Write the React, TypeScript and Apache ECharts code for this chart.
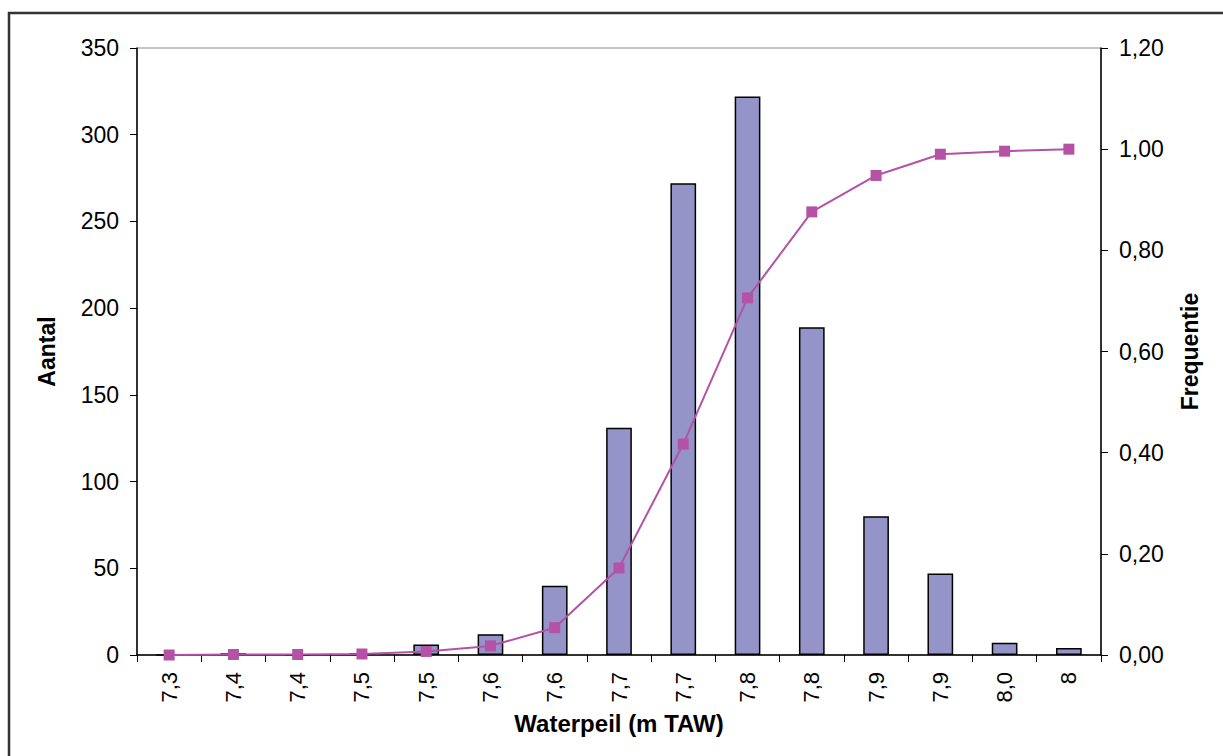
import React, { useEffect, useRef } from "react";
import * as echarts from "echarts";

// Water level classes (m TAW)
const categories = ["7,3", "7,4", "7,4", "7,5", "7,5", "7,6", "7,6", "7,7", "7,7", "7,8", "7,8", "7,9", "7,9", "8,0", "8"];
// Number of observations per class
const counts = [0, 1, 0, 1, 6, 12, 40, 131, 272, 322, 189, 80, 47, 7, 4];
// Cumulative frequency per class
const frequency = [0, 0.001, 0.001, 0.002, 0.007, 0.018, 0.054, 0.172, 0.417, 0.706, 0.876, 0.948, 0.99, 0.996, 1.0];

const leftTicks = { min: 0, max: 350, interval: 50 };
const rightTicks = { min: 0, max: 1.2, interval: 0.2 };

const FONT = "'Liberation Sans', Arial, sans-serif";

export default function App() {
  const ref = useRef<HTMLDivElement>(null);

  useEffect(() => {
    if (!ref.current) return;
    const chart = echarts.init(ref.current, null, { renderer: "svg" });
    chart.setOption({
      animation: false,
      backgroundColor: "#ffffff",
      textStyle: { fontFamily: FONT },
      graphic: [
        {
          type: "polyline",
          silent: true,
          shape: { points: [[9, 760], [9, 13], [1230, 13]] },
          style: { stroke: "#333333", lineWidth: 2.5, fill: "none" },
        },
      ],
      grid: {
        left: 137,
        right: 122,
        top: 48,
        bottom: 101,
        show: true,
        borderColor: "#8c8c8c",
        borderWidth: 1,
        backgroundColor: "transparent",
      },
      xAxis: {
        type: "category",
        data: categories,
        boundaryGap: true,
        name: "Waterpeil (m TAW)",
        nameLocation: "middle",
        nameGap: 56,
        nameTextStyle: { fontSize: 24, fontWeight: "bold", color: "#000", fontFamily: FONT },
        axisLine: { lineStyle: { color: "#000", width: 1.5 } },
        axisTick: { show: true, alignWithLabel: false, length: 7, lineStyle: { color: "#000" } },
        axisLabel: { rotate: 90, fontSize: 22, color: "#000", margin: 17, fontFamily: FONT, interval: 0 },
        splitLine: { show: false },
      },
      yAxis: [
        {
          type: "value",
          ...leftTicks,
          name: "Aantal",
          nameLocation: "middle",
          nameGap: 79,
          nameRotate: 90,
          nameTextStyle: { fontSize: 23, fontWeight: "bold", color: "#000", fontFamily: FONT },
          axisLine: { show: true, lineStyle: { color: "#000", width: 1.5 } },
          axisTick: { show: true, length: 7, lineStyle: { color: "#000" } },
          axisLabel: { fontSize: 23, color: "#000", margin: 18, fontFamily: FONT },
          splitLine: { show: false },
        },
        {
          type: "value",
          ...rightTicks,
          position: "right",
          name: "Frequentie",
          nameLocation: "middle",
          nameGap: 77,
          nameRotate: 90,
          nameTextStyle: { fontSize: 23, fontWeight: "bold", color: "#000", fontFamily: FONT },
          axisLine: { show: true, lineStyle: { color: "#000", width: 1.5 } },
          axisTick: { show: true, length: 7, lineStyle: { color: "#000" } },
          axisLabel: {
            fontSize: 23,
            color: "#000",
            margin: 18,
            fontFamily: FONT,
            formatter: (v: number) => v.toFixed(2).replace(".", ","),
          },
          splitLine: { show: false },
        },
      ],
      series: [
        {
          type: "bar",
          name: "Aantal",
          data: counts,
          yAxisIndex: 0,
          barWidth: "40%",
          itemStyle: { color: "#9494c8", borderColor: "#000", borderWidth: 1.5 },
        },
        {
          type: "line",
          name: "Frequentie",
          data: frequency,
          yAxisIndex: 1,
          smooth: false,
          symbol: "rect",
          symbolSize: 11,
          lineStyle: { color: "#b452a6", width: 2 },
          itemStyle: { color: "#b452a6" },
        },
      ],
    });
    return () => chart.dispose();
  }, []);

  return (
    <div
      ref={ref}
      style={{ position: "fixed", left: 0, top: 0, width: 1223, height: 756 }}
    />
  );
}
